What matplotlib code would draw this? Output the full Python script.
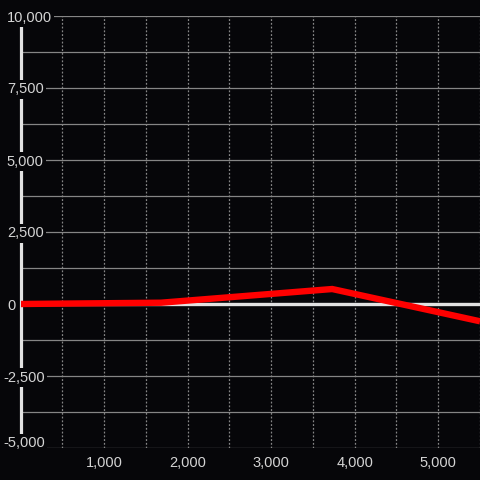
import matplotlib
matplotlib.use("Agg")
import matplotlib.pyplot as plt
import numpy as np

# Data
x_vals = [0, 1680, 3730, 5500]
y_vals = [0, 45, 520, -600]

y_ticks = np.arange(-5000, 10001, 1250)
y_labels = [-5000, -2500, 0, 2500, 5000, 7500, 10000]
x_labels = [1000, 2000, 3000, 4000, 5000]

BG = "#060609"
TXT = "#d4d4d4"
GRID = "#858585"
AXIS = "#e2e2e2"

plt.rcParams.update({
    "font.family": ["Liberation Sans", "DejaVu Sans"],
    "font.size": 10.5,
})

fig = plt.figure(figsize=(4.8, 4.8), dpi=100, facecolor=BG)
ax = fig.add_axes([20.7 / 480, 32 / 480, 459.3 / 480, 432 / 480], facecolor=BG)

ax.set_xlim(0, 5500)
ax.set_ylim(-5000, 10000)

# grid
ax.set_yticks(y_ticks)
ax.set_yticklabels([])
ax.set_xticks(x_labels)
ax.set_xticklabels([f"{v:,}" for v in x_labels], color=TXT)
ax.set_xticks(np.arange(500, 5501, 1000), minor=True)
ax.tick_params(axis="both", which="both", length=0)
ax.tick_params(axis="x", pad=6, labelsize=10.5)
ax.grid(axis="y", color=GRID, lw=0.9, ls="-", zorder=1)
ax.grid(axis="x", which="both", color=GRID, lw=0.9, ls=(0, (1.5, 1.5)), zorder=1)
ax.set_axisbelow(True)

for side in ["top", "right", "bottom"]:
    ax.spines[side].set_visible(False)
ax.spines["left"].set_color(AXIS)
ax.spines["left"].set_linewidth(2.3)
ax.spines["left"].set_zorder(3)

ax.axhline(0, color=AXIS, lw=2.4, zorder=2)

ax.plot(x_vals, y_vals, color="#ff0000", lw=4.6, solid_joinstyle="miter",
        solid_capstyle="butt", zorder=4)

# y labels sit over the axis line with a background box
for v in y_labels:
    dx = -12.7 if v < 0 else -9.9
    dy = 4.5 if v == -5000 else 0
    ax.annotate(f"{v:,}", xy=(0, v), xycoords=("axes fraction", "data"),
                xytext=(dx, dy), textcoords="offset points",
                ha="left", va="center_baseline", color=TXT, fontsize=10.5,
                annotation_clip=False, zorder=6,
                bbox=dict(boxstyle="square,pad=0.15", fc=BG, ec="none"))

fig.savefig("out.png", dpi=100, facecolor=BG)
